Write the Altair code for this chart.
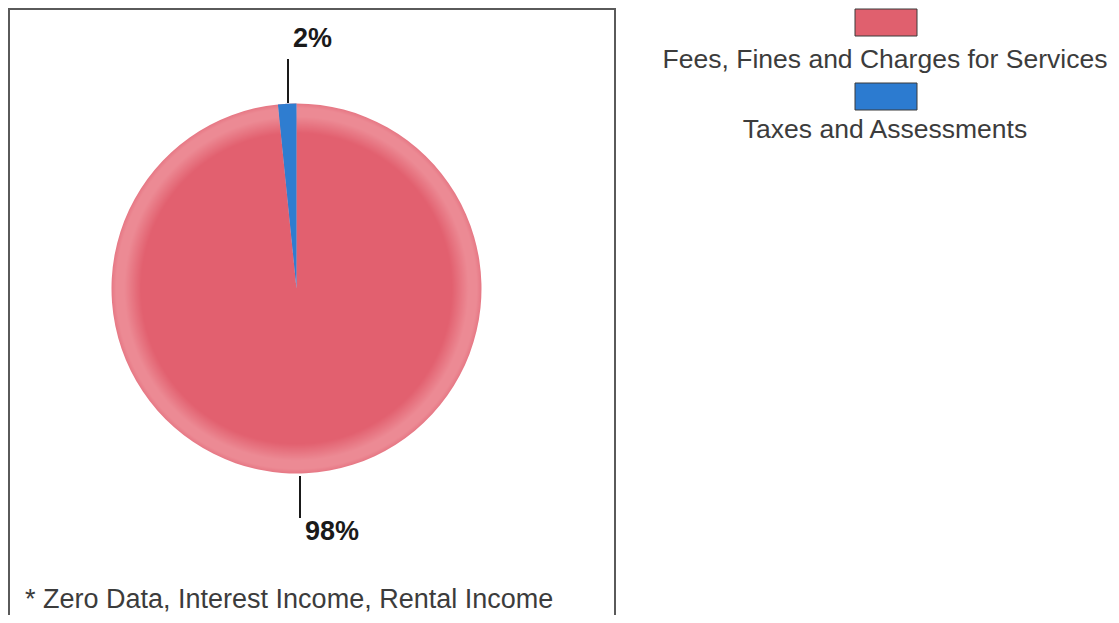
import altair as alt
import pandas as pd

# ---- data ----
categories = ["Fees, Fines and Charges for Services", "Taxes and Assessments"]
shares = [98.4, 1.6]
pct_labels = ["98%", "2%"]
footnote = "* Zero Data, Interest Income, Rental Income"

# ---- styles ----
FONT = "Liberation Sans"
RED_MAIN = "#E2606F"
RED_RIM = "#EC8A94"
RED_EDGE = "#E67784"
BLUE = "#2F7DD0"
swatch_colors = ["#E0606E", "#2C7BD0"]
TEXT_GREY = "#3c3c3c"

df = pd.DataFrame({
    "category": categories,
    "share": shares,
    "label": pct_labels,
    "idx": list(range(len(categories))),
})
note_df = pd.DataFrame({"note": [footnote]})

CX, CY, R = 288.5, 280.5, 185

base = alt.Chart(df)
theta = alt.Theta("share:Q", stack=True)
order = alt.Order("idx:Q")

gradient = {
    "gradient": "radial",
    "x1": 0.5, "y1": 0.5, "r1": 0,
    "x2": 0.5, "y2": 0.5, "r2": 0.5,
    "stops": [
        {"offset": 0.0, "color": RED_MAIN},
        {"offset": 0.84, "color": RED_MAIN},
        {"offset": 0.93, "color": RED_RIM},
        {"offset": 0.975, "color": RED_RIM},
        {"offset": 1.0, "color": RED_EDGE},
    ],
}

# frame around the pie panel
frame = alt.Chart(note_df).mark_rect(
    fill="transparent", stroke="#5a5a5a", strokeWidth=2
).encode(x=alt.value(1), x2=alt.value(607), y=alt.value(1), y2=alt.value(640))

pie_fill = base.mark_arc(radius=R, fill=gradient).encode(
    theta=theta, order=order, detail="category:N",
    x=alt.value(CX), y=alt.value(CY),
)

pie_blue = base.mark_arc(radius=R).encode(
    theta=theta, order=order,
    color=alt.Color("category:N",
                    scale=alt.Scale(domain=categories, range=["rgba(0,0,0,0)", BLUE]),
                    legend=None),
    x=alt.value(CX), y=alt.value(CY),
)

def label_layer(cat, tx, ty, lx, ly1, ly2):
    sub = base.transform_filter(alt.datum.category == cat)
    rule = sub.mark_rule(color="#1a1a1a", strokeWidth=2).encode(
        x=alt.value(lx), y=alt.value(ly1), y2=alt.value(ly2))
    txt = sub.mark_text(align="left", baseline="middle", font=FONT,
                        fontSize=27, fontWeight="bold", color="#1a1a1a").encode(
        text="label:N", x=alt.value(tx), y=alt.value(ty))
    return rule + txt

lab_small = label_layer(categories[1], 285, 31, 280, 51, 95)
lab_big = label_layer(categories[0], 297, 524, 292, 468, 510)

swatch_path = "M-1,-0.4355L1,-0.4355L1,0.4355L-1,0.4355Z"
legend_sw = base.mark_point(shape=swatch_path, size=3844, filled=True, opacity=1,
                            stroke="#3a3a3a", strokeWidth=1).encode(
    x=alt.value(878),
    y=alt.Y("category:N",
            scale=alt.Scale(type="point", domain=categories, range=[14.5, 88.5], padding=0),
            axis=None),
    color=alt.Color("category:N", scale=alt.Scale(domain=categories, range=swatch_colors),
                    legend=None),
)
legend_txt = base.mark_text(align="center", baseline="middle", font=FONT,
                            fontSize=26.5, color=TEXT_GREY).encode(
    x=alt.value(877),
    y=alt.Y("category:N",
            scale=alt.Scale(type="point", domain=categories, range=[52, 122], padding=0),
            axis=None),
    text="category:N",
)

note = alt.Chart(note_df).mark_text(align="left", baseline="middle", font=FONT,
                                    fontSize=27, color=TEXT_GREY).encode(
    x=alt.value(17), y=alt.value(592), text="note:N")

chart = alt.layer(
    frame, pie_fill, pie_blue, lab_small, lab_big, legend_sw, legend_txt, note
).resolve_scale(
    y="independent", color="independent"
).properties(
    width=1103, height=607, padding=0,
    autosize=alt.AutoSizeParams(type="none"),
).configure_view(strokeWidth=0)

chart.save("out.html", embed_options={"renderer": "svg", "actions": False})
